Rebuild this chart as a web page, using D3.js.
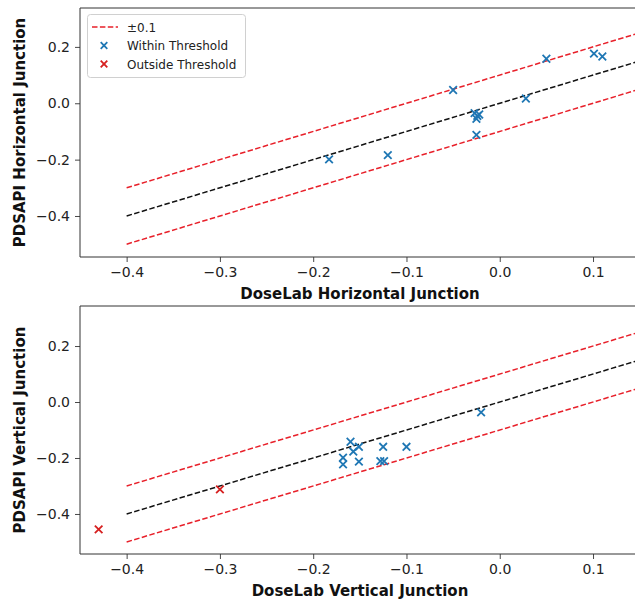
<!DOCTYPE html>
<html><head><meta charset="utf-8">
<script src="https://cdn.jsdelivr.net/npm/d3@7"></script>
<style>
body{margin:0;background:#fff;}
text{font-family:"DejaVu Sans",sans-serif;}
</style></head>
<body><svg id="c" width="635" height="602"></svg>
<script>
// Horizontal junction (top panel)
const horizDoseLab = [-0.183, -0.12, -0.05, -0.027, -0.024, -0.022, -0.025, -0.025, 0.028, 0.05, 0.101, 0.11];
const horizPDSAPI  = [-0.199, -0.184, 0.047, -0.035, -0.045, -0.04, -0.055, -0.112, 0.017, 0.158, 0.176, 0.166];
const horizOutside = [false, false, false, false, false, false, false, false, false, false, false, false];
// Vertical junction (bottom panel)
const vertDoseLab = [-0.43, -0.30, -0.168, -0.168, -0.16, -0.157, -0.151, -0.151, -0.128, -0.124, -0.125, -0.10, -0.02];
const vertPDSAPI  = [-0.455, -0.312, -0.199, -0.223, -0.142, -0.177, -0.16, -0.213, -0.211, -0.211, -0.16, -0.16, -0.037];
const vertOutside = [true, true, false, false, false, false, false, false, false, false, false, false, false];
// reference lines y = x and y = x ± 0.1
const lineX = [-0.4, 0.2];
const threshold = 0.1;
const xTicks = [-0.4, -0.3, -0.2, -0.1, 0.0, 0.1];
const yTicks = [-0.4, -0.2, 0.0, 0.2];
const legendLabels = ["\u00b10.1", "Within Threshold", "Outside Threshold"];

const svg = d3.select("#c");
const BLUE = "#1f77b4", RED = "#e8202a";
const fmt = d3.format(".1f");

function panel(cfg){
  const x = d3.scaleLinear().domain([-0.45, 0.145]).range([80, 635]);
  const y = d3.scaleLinear().domain(cfg.ydom).range([cfg.bottom, cfg.top]);
  const g = svg.append("g");
  const clipId = "clip" + cfg.id;
  svg.append("clipPath").attr("id", clipId).append("rect")
    .attr("x", 80).attr("y", cfg.top).attr("width", 555).attr("height", cfg.bottom - cfg.top);
  const plot = g.append("g").attr("clip-path", `url(#${clipId})`);
  const line = d3.line().x(d => x(d[0])).y(d => y(d[1]));
  [[-threshold, RED], [0, "#111"], [threshold, RED]].forEach(([off, col]) => {
    plot.append("path").datum(lineX.map(v => [v, v + off]))
      .attr("d", line).attr("fill", "none").attr("stroke", col)
      .attr("stroke-width", 1.5).attr("stroke-dasharray", "5.5,2.4");
  });
  const pts = cfg.xs.map((v, i) => ({x: v, y: cfg.ys[i], out: cfg.out[i]}));
  const s = 3.8;
  plot.selectAll("path.pt").data(pts).join("path").attr("class", "pt")
    .attr("d", d => `M${x(d.x)-s},${y(d.y)-s}L${x(d.x)+s},${y(d.y)+s}M${x(d.x)-s},${y(d.y)+s}L${x(d.x)+s},${y(d.y)-s}`)
    .attr("stroke", d => d.out ? "#d62020" : BLUE).attr("stroke-width", 1.8).attr("fill", "none");
  const xa = g.append("g").attr("transform", `translate(0,${cfg.bottom})`)
    .call(d3.axisBottom(x).tickValues(xTicks).tickFormat(fmt).tickSizeOuter(0).tickSize(5).tickPadding(5));
  const ya = g.append("g").attr("transform", `translate(80,0)`)
    .call(d3.axisLeft(y).tickValues(yTicks).tickFormat(fmt).tickSizeOuter(0).tickSize(5).tickPadding(5));
  [xa, ya].forEach(a => {
    a.select(".domain").remove();
    a.selectAll("line").attr("stroke", "#333").attr("stroke-width", 0.9);
    a.selectAll("text").attr("font-size", 14).attr("fill", "#222").attr("font-family", "DejaVu Sans");
  });
  g.append("path").attr("d", `M635,${cfg.top}H80V${cfg.bottom}H635`)
    .attr("fill", "none").attr("stroke", "#333").attr("stroke-width", 1);
  g.append("text").attr("x", 360).attr("y", cfg.bottom + 42).attr("text-anchor", "middle")
    .attr("font-weight", "bold").attr("font-size", 15).attr("fill", "#111").text(cfg.xlabel);
  g.append("text").attr("transform", `translate(25,${(cfg.top+cfg.bottom)/2}) rotate(-90)`)
    .attr("text-anchor", "middle").attr("font-weight", "bold").attr("font-size", 15)
    .attr("fill", "#111").text(cfg.ylabel);
  return {x, y, g};
}

panel({id: 1, top: 8, bottom: 257, ydom: [-0.5455, 0.338],
  xs: horizDoseLab, ys: horizPDSAPI, out: horizOutside,
  xlabel: "DoseLab Horizontal Junction", ylabel: "PDSAPI Horizontal Junction"});
panel({id: 2, top: 306, bottom: 554, ydom: [-0.543, 0.343],
  xs: vertDoseLab, ys: vertPDSAPI, out: vertOutside,
  xlabel: "DoseLab Vertical Junction", ylabel: "PDSAPI Vertical Junction"});

const lg = svg.append("g");
lg.append("rect").attr("x", 87.5).attr("y", 14.5).attr("width", 158).attr("height", 63).attr("rx", 3)
  .attr("fill", "#fff").attr("fill-opacity", 0.8).attr("stroke", "#d0d0d0");
lg.append("line").attr("x1", 92).attr("x2", 118).attr("y1", 27).attr("y2", 27)
  .attr("stroke", RED).attr("stroke-width", 1.5).attr("stroke-dasharray", "5.5,2.4");
[[BLUE, 45.5], ["#d62020", 64]].forEach(([c, yy]) => {
  const s = 3.3, cx = 104;
  lg.append("path").attr("d", `M${cx-s},${yy-s}L${cx+s},${yy+s}M${cx-s},${yy+s}L${cx+s},${yy-s}`)
    .attr("stroke", c).attr("stroke-width", 1.8);
});
legendLabels.forEach((t, i) => {
  lg.append("text").attr("x", 127).attr("y", [31.5, 50, 69][i]).attr("font-size", 12)
    .attr("fill", "#222").text(t);
});
</script></body></html>
